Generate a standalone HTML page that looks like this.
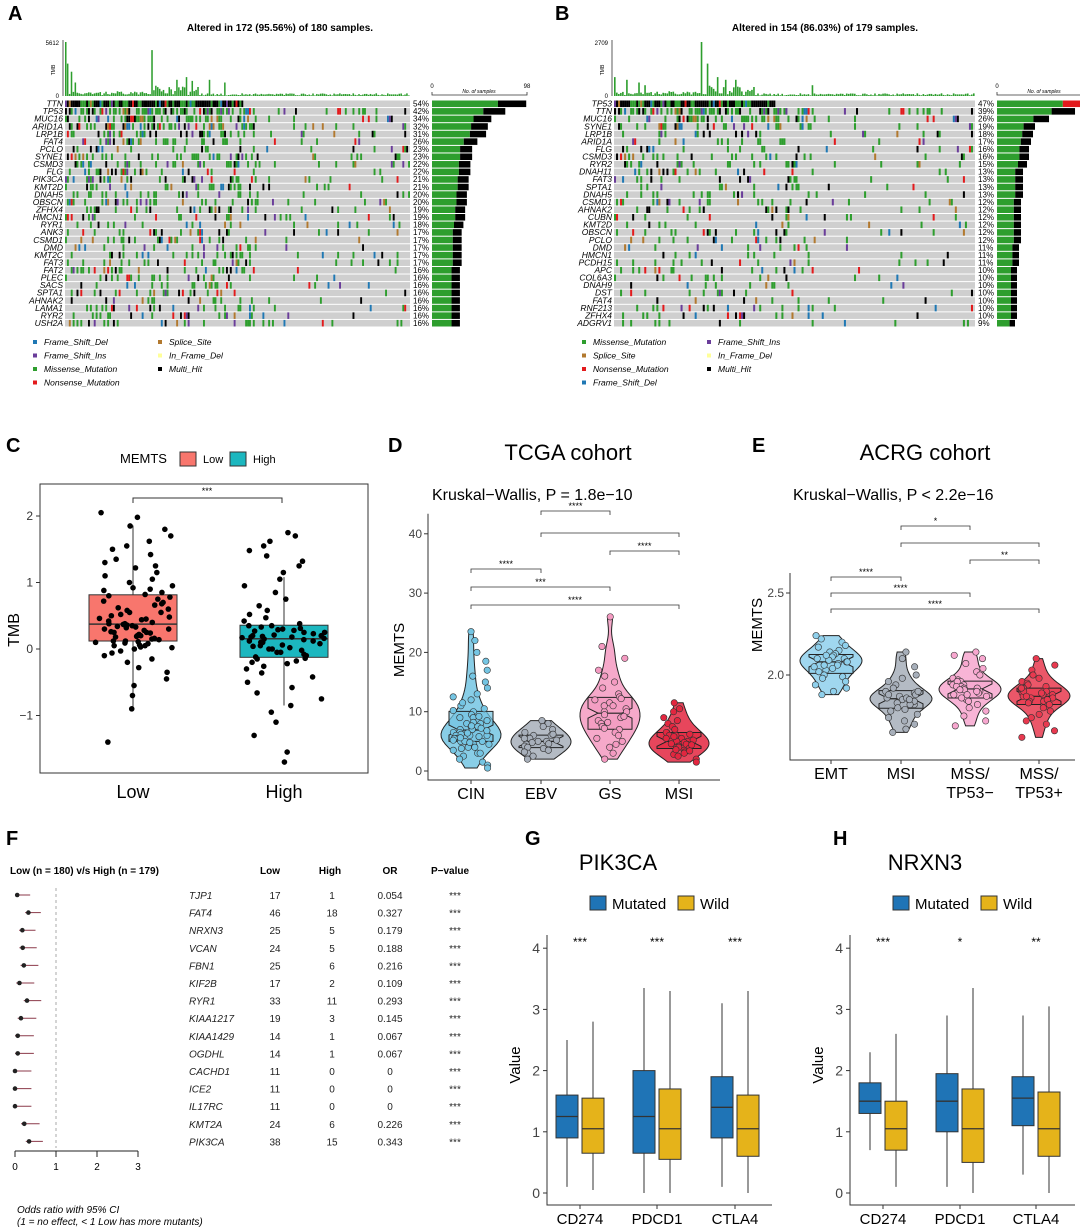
<!DOCTYPE html>
<html><head><meta charset="utf-8"><style>
body{margin:0;background:#fff;}
svg{display:block;font-family:"Liberation Sans",Arial,sans-serif;}
.it{font-style:italic;}
</style></head><body>
<svg id="fig" width="1080" height="1227" viewBox="0 0 1080 1227" xmlns="http://www.w3.org/2000/svg">
<g id="A">
<text x="8" y="20" font-size="20" font-weight="bold">A</text>
<text x="280" y="31" font-size="10" font-weight="bold" text-anchor="middle">Altered in 172 (95.56%) of 180 samples.</text>
</g>
<g id="B">
<text x="555" y="20" font-size="20" font-weight="bold">B</text>
<text x="825" y="31" font-size="10" font-weight="bold" text-anchor="middle">Altered in 154 (86.03%) of 179 samples.</text>
</g>
<g id="C">
<text x="6" y="452" font-size="20" font-weight="bold">C</text>
<text x="120" y="463" font-size="13">MEMTS</text>
<rect x="180" y="452" width="16" height="14" fill="#f8766d" stroke="#333"/>
<text x="203" y="463" font-size="11">Low</text>
<rect x="230" y="452" width="16" height="14" fill="#1cb7bf" stroke="#333"/>
<text x="253" y="463" font-size="11">High</text>
<rect x="40" y="484" width="328" height="289" fill="none" stroke="#333"/>
<text x="19" y="630" font-size="16" transform="rotate(-90 19 630)" text-anchor="middle">TMB</text>
<text x="133" y="798" font-size="18" text-anchor="middle">Low</text>
<text x="284" y="798" font-size="18" text-anchor="middle">High</text>
</g>
<g id="D">
<text x="388" y="452" font-size="20" font-weight="bold">D</text>
<text x="568" y="460" font-size="22" text-anchor="middle">TCGA cohort</text>
<text x="432" y="500" font-size="16">Kruskal−Wallis, P = 1.8e−10</text>
<text x="404" y="650" font-size="15" transform="rotate(-90 404 650)" text-anchor="middle">MEMTS</text>
</g>
<g id="E">
<text x="752" y="452" font-size="20" font-weight="bold">E</text>
<text x="925" y="460" font-size="22" text-anchor="middle">ACRG cohort</text>
<text x="793" y="500" font-size="16">Kruskal−Wallis, P &lt; 2.2e−16</text>
<text x="762" y="625" font-size="15" transform="rotate(-90 762 625)" text-anchor="middle">MEMTS</text>
</g>
<g id="F">
<text x="6" y="845" font-size="20" font-weight="bold">F</text>
<text x="10" y="874" font-size="10" font-weight="bold">Low (n = 180) v/s High (n = 179)</text>
<text x="270" y="874" font-size="10" font-weight="bold" text-anchor="middle">Low</text>
<text x="330" y="874" font-size="10" font-weight="bold" text-anchor="middle">High</text>
<text x="390" y="874" font-size="10" font-weight="bold" text-anchor="middle">OR</text>
<text x="450" y="874" font-size="10" font-weight="bold" text-anchor="middle">P−value</text>
<text x="17" y="1213" font-size="10" class="it">Odds ratio with 95% CI</text>
<text x="17" y="1225" font-size="10" class="it">(1 = no effect, &lt; 1 Low has more mutants)</text>
</g>
<g id="G">
<text x="525" y="845" font-size="20" font-weight="bold">G</text>
<text x="618" y="870" font-size="22" text-anchor="middle">PIK3CA</text>
</g>
<g id="H">
<text x="833" y="845" font-size="20" font-weight="bold">H</text>
<text x="925" y="870" font-size="22" text-anchor="middle">NRXN3</text>
</g>
</svg>
<script>
const NS='http://www.w3.org/2000/svg';
function mk(parent,tag,attrs,txt){const e=document.createElementNS(NS,tag);for(const k in attrs)e.setAttribute(k,attrs[k]);if(txt!==undefined)e.textContent=txt;parent.appendChild(e);return e;}
const gA=document.getElementById('A'),gB=document.getElementById('B'),gC=document.getElementById('C'),gD=document.getElementById('D'),gE=document.getElementById('E'),gF=document.getElementById('F'),gG=document.getElementById('G'),gH=document.getElementById('H');

// ---------- Oncoplot data ----------
const genesA=['TTN','TP53','MUC16','ARID1A','LRP1B','FAT4','PCLO','SYNE1','CSMD3','FLG','PIK3CA','KMT2D','DNAH5','OBSCN','ZFHX4','HMCN1','RYR1','ANK3','CSMD1','DMD','KMT2C','FAT3','FAT2','PLEC','SACS','SPTA1','AHNAK2','LAMA1','RYR2','USH2A'];
const pctA=[54,42,34,32,31,26,23,23,22,22,21,21,20,20,19,19,18,17,17,17,17,17,16,16,16,16,16,16,16,16];
const genesB=['TP53','TTN','MUC16','SYNE1','LRP1B','ARID1A','FLG','CSMD3','RYR2','DNAH11','FAT3','SPTA1','DNAH5','CSMD1','AHNAK2','CUBN','KMT2D','OBSCN','PCLO','DMD','HMCN1','PCDH15','APC','COL6A3','DNAH9','DST','FAT4','RNF213','ZFHX4','ADGRV1'];
const pctB=[47,39,26,19,18,17,16,16,15,13,13,13,13,12,12,12,12,12,12,11,11,11,10,10,10,10,10,10,10,9];
const tmbPeaksA=[[0,1.0],[1,0.6],[3,0.45],[5,0.25],[45,0.85],[58,0.3],[63,0.35],[66,0.28],[75,0.3],[83,0.25]];
const tmbPeaksB=[[0,0.35],[6,0.3],[12,0.25],[15,0.2],[43,1.0],[46,0.6],[51,0.35],[55,0.3],[60,0.3],[98,0.2]];
const mutColors=['#2e9e2e','#2e9e2e','#2e9e2e','#2e9e2e','#2e9e2e','#2e9e2e','#2e9e2e','#2e9e2e','#000','#000','#1f78b4','#6a3d9a','#e31a1c','#b2792f'];
function hsh(a,b){let x=(a*73856093)^(b*19349663);x=(x^(x>>>13))*1274126177;x=x^(x>>>16);return ((x>>>0)%10000)/10000;}

function oncoplot(g,genes,pct,nS,x0,x1,yTop,yBot,maxN,peaks,pfx){
  const colW=(x1-x0)/nS, rowH=(yBot-yTop)/genes.length;
  const tb=mk(g,'line',{x1:x0-2,y1:40,x2:x0-2,y2:96,stroke:'#333','stroke-width':0.8});
  
  
  const tt=mk(g,'text',{x:x0-10,y:70,'font-size':5,transform:`rotate(-90 ${x0-10} 70)`,'text-anchor':'middle'},'TMB');
  
  
  const tm=mk(g,'text',{x:x0-6,y:45,'font-size':6,'text-anchor':'end'},pfx==='a'?'5612':'2709');
  
  
  const t0=mk(g,'text',{x:x0-6,y:98,'font-size':6,'text-anchor':'end'},'0');
  
  
  for(let c=0;c<nS;c++){
    let v=0.01+0.04*hsh(c,99);
    if(c>=45&&c<70)v+=0.15*hsh(c,7);
    if(c<45)v+=0.05*hsh(c,8);
    peaks.forEach(p=>{if(p[0]===c)v=p[1];});
    const h=v*54;
    const b=mk(g,'rect',{x:x0+c*colW,y:96-h,width:colW*0.8,height:h,fill:'#2e9e2e'});
    
    
  }
  genes.forEach((gn,i)=>{
    const y=yTop+i*rowH;
    const bg=mk(g,'rect',{x:x0,y:y+0.5,width:x1-x0,height:rowH-1,fill:'#cfcfcf'});
    
    
    const p=pct[i]/100;
    for(let c=0;c<nS;c++){
      let on;
      if(i===0) on=c<nS*p*0.95;
      else { const dens=(c<nS*0.55)?p*1.2:p*0.35; on=hsh(c,i+11)<dens; }
      if(on){
        const col=mutColors[Math.floor(hsh(c,i+50)*mutColors.length)];
        const r=mk(g,'rect',{x:x0+c*colW,y:y+0.5,width:colW,height:rowH-1,fill:(i===0&&hsh(c,3)<0.45)?'#000':col});
        
        
      }
    }
    const gl=mk(g,'text',{x:x0-2,y:y+rowH-1,'font-size':8.5,'text-anchor':'end',class:'it'},gn);
    
    
    const pl=mk(g,'text',{x:x1+3,y:y+rowH-1,'font-size':8},pct[i]+'%');
    
    
    const bx=x1+22, bw=95*(pct[i]/100*nS)/maxN;
    const gr=mk(g,'rect',{x:bx,y:y+0.5,width:bw*0.7,height:rowH-1,fill:'#2e9e2e'});
    
    
    const bk=mk(g,'rect',{x:bx+bw*0.7,y:y+0.5,width:bw*0.3,height:rowH-1,fill:i===0&&pfx==='b'?'#e31a1c':'#000'});
    
    
  });
  const bx=x1+22;
  const ax=mk(g,'path',{d:`M${bx},92 L${bx},95 L${bx+95},95 L${bx+95},92`,fill:'none',stroke:'#333','stroke-width':0.8});
  
  
  const a0=mk(g,'text',{x:bx,y:88,'font-size':6,'text-anchor':'middle'},'0');
  
  
  const a1=mk(g,'text',{x:bx+95,y:88,'font-size':6,'text-anchor':'middle'},String(maxN));
  
  
  const an=mk(g,'text',{x:bx+47,y:93,'font-size':5,'text-anchor':'middle',class:'it'},'No. of samples');
  
  
}
const legA=[['Frame_Shift_Del','#1f78b4'],['Frame_Shift_Ins','#6a3d9a'],['Missense_Mutation','#2e9e2e'],['Nonsense_Mutation','#e31a1c'],['Splice_Site','#b2792f'],['In_Frame_Del','#ffff99'],['Multi_Hit','#000']];
const legB=[['Missense_Mutation','#2e9e2e'],['Splice_Site','#b2792f'],['Nonsense_Mutation','#e31a1c'],['Frame_Shift_Del','#1f78b4'],['Frame_Shift_Ins','#6a3d9a'],['In_Frame_Del','#ffff99'],['Multi_Hit','#000']];
oncoplot(gA,genesA,pctA,180,65,410,100,327,98,tmbPeaksA,'a');
oncoplot(gB,genesB,pctB,179,614,975,100,327,85,tmbPeaksB,'b');
function drawLegend(g,items,x,split,pfx){
  items.forEach((it,k)=>{
    const col=k<split?0:1, row=k<split?k:k-split;
    const lx=x+col*125, ly=344+row*13.5;
    const s=mk(g,'rect',{x:lx,y:ly-4,width:4,height:4,fill:it[1]});
    
    
    const t=mk(g,'text',{x:lx+11,y:ly+1,'font-size':8.5,class:'it'},it[0]);
    
    
  });
}
drawLegend(gA,legA,33,4,'a');
drawLegend(gB,legB,582,4,'b');

// ---------- Panel C ----------
const tmbLow=[2.05,1.98,1.85,1.8,1.7,1.62,1.55,1.5,1.42,1.35,1.3,1.22,1.15,1.1,1.05,1.0,0.95,0.92,0.88,0.85,0.82,0.8,0.78,0.75,0.72,0.7,0.66,0.62,0.6,0.58,0.55,0.52,0.5,0.48,0.46,0.44,0.42,0.4,0.38,0.37,0.36,0.35,0.34,0.33,0.32,0.3,0.28,0.26,0.25,0.24,0.22,0.2,0.19,0.18,0.16,0.15,0.14,0.12,0.11,0.1,0.09,0.08,0.06,0.05,0.03,0.02,0.0,-0.03,-0.06,-0.1,-0.15,-0.2,-0.28,-0.35,-0.45,-0.55,-0.7,-0.9,-1.4,0.3,0.45,0.2,0.55,0.68,0.12,0.25,0.38,0.9,1.25,0.05];
const tmbHigh=[1.75,1.7,1.62,1.55,1.48,1.4,1.32,1.25,1.15,1.05,0.95,0.85,0.75,0.65,0.58,0.52,0.47,0.42,0.38,0.35,0.33,0.31,0.29,0.27,0.25,0.23,0.21,0.2,0.19,0.18,0.17,0.16,0.15,0.14,0.12,0.1,0.08,0.06,0.04,0.02,0.0,-0.02,-0.05,-0.08,-0.1,-0.12,-0.14,-0.15,-0.18,-0.22,-0.26,-0.3,-0.36,-0.42,-0.5,-0.58,-0.66,-0.75,-0.85,-0.95,-1.1,-1.3,-1.55,-1.7,0.3,0.2,0.1,-0.05,0.25,0.12,0.35,0.05,-0.2,0.18,0.28,0.0];
const yTicksC=[-1,0,1,2];
const yC=v=>649-66.5*v;
function q(a,p){const s=[...a].sort((x,y)=>x-y);const i=(s.length-1)*p;const lo=Math.floor(i);return s[lo]+(s[Math.min(lo+1,s.length-1)]-s[lo])*(i-lo);}
yTicksC.forEach(t=>{
  const l=mk(gC,'line',{x1:36,y1:yC(t),x2:40,y2:yC(t),stroke:'#333'});
  
  
  const tx=mk(gC,'text',{x:33,y:yC(t)+4,'font-size':12,'text-anchor':'end',fill:'#333'},t===-1?'−1':String(t));
  
  
});
[[tmbLow,133,'#f8766d','low'],[tmbHigh,284,'#1cb7bf','high']].forEach(([d,cx,col,nm])=>{
  const q1=q(d,0.25),md=q(d,0.5),q3=q(d,0.75),iqr=q3-q1;
  const wl=Math.max(Math.min(...d),q1-1.5*iqr),wh=Math.min(Math.max(...d),q3+1.5*iqr);
  const w=mk(gC,'line',{x1:cx,y1:yC(wh),x2:cx,y2:yC(wl),stroke:'#333'});
  
  
  const b=mk(gC,'rect',{x:cx-44,y:yC(q3),width:88,height:yC(q1)-yC(q3),fill:col,stroke:'#333'});
  
  
  const m=mk(gC,'line',{x1:cx-44,y1:yC(md),x2:cx+44,y2:yC(md),stroke:'#333','stroke-width':1.5});
  
  
  d.forEach((v,i)=>{
    const c=mk(gC,'circle',{cx:cx+(hsh(i,cx)-0.5)*84,cy:yC(v),r:2.8,fill:'#000'});
    
    
  });
});
const brC=mk(gC,'path',{d:'M133,503 L133,498 L282,498 L282,503',fill:'none',stroke:'#333'});


const stC=mk(gC,'text',{x:207,y:494,'font-size':9,'text-anchor':'middle'},'***');



// ---------- Violins D & E ----------
const catsD=['CIN','EBV','GS','MSI'];
const valsCIN=[23.5,22,20,18.5,17,16,15,14,13,12.5,12,11,10.5,10,9.5,9,9,8.5,8,8,7.5,7.5,7,7,6.5,6.5,6,6,6,5.5,5.5,5,5,5,4.5,4.5,4,4,3.5,3,3,2.5,2,1.5,1,0.5,6.2,7.2,5.8,6.8,8.2,4.8,5.2,9.2,10.2,6.4,5.6,7.6,3.8,11.5];
const valsEBV=[8.5,8,7.5,7,6.5,6,6,5.5,5.5,5,5,4.8,4.5,4.2,4,3.8,3.5,3,2.5,2,5.2,4.6,6.2,3.2];
const valsGS=[26,21,19,17,16,15,14,13,12.5,12,11.5,11,10.5,10,10,9.5,9,8.5,8,7.5,7,6.5,6,5.5,5,4.5,4,3,2,11,9.2,8.2,12.2,7.2];
const valsMSI=[11.5,10.5,10,9,8.5,8,7.5,7,6.5,6.5,6,6,5.5,5.5,5,5,4.8,4.5,4.5,4.2,4,4,3.8,3.5,3.2,3,2.8,2.5,2,1.5,5.2,4.6,6.2,3.6,4.4,5.8,3.4];
const yTicksD=[0,10,20,30,40];
const catsE=['EMT','MSI','MSS/\nTP53−','MSS/\nTP53+'];
const valsEMT=[2.24,2.22,2.2,2.18,2.17,2.15,2.14,2.13,2.12,2.11,2.1,2.09,2.08,2.07,2.06,2.05,2.04,2.03,2.02,2.0,1.99,1.98,1.96,1.94,1.92,1.9,1.88,2.08,2.1,2.12,2.06];
const valsMSIe=[2.14,2.1,2.05,2.0,1.98,1.96,1.94,1.92,1.9,1.89,1.88,1.87,1.86,1.85,1.84,1.83,1.82,1.8,1.79,1.78,1.76,1.74,1.72,1.7,1.67,1.65,1.86,1.84,1.88,1.9,1.82,1.85];
const valsTP53n=[2.14,2.12,2.1,2.07,2.04,2.02,2.0,1.98,1.97,1.96,1.95,1.94,1.93,1.92,1.91,1.9,1.89,1.88,1.87,1.86,1.85,1.84,1.82,1.8,1.78,1.75,1.72,1.69,1.92,1.94,1.9,1.96,1.88,1.86,1.93,1.91];
const valsTP53p=[2.1,2.06,2.03,2.0,1.98,1.96,1.95,1.94,1.93,1.92,1.91,1.9,1.89,1.88,1.87,1.86,1.85,1.84,1.83,1.82,1.81,1.8,1.78,1.76,1.74,1.72,1.7,1.66,1.62,1.88,1.86,1.9,1.84,1.87,1.92,1.85,1.82,1.89];
const yTicksE=[2.0,2.5];
const yD=v=>771-5.93*v;
const yE=v=>675-164*(v-2);

function violin(g,vals,cx,yf,col,bw,maxW,nm){
  const lo=Math.min(...vals),hi=Math.max(...vals),N=40;
  let mx=0;const dens=[];
  for(let k=0;k<=N;k++){const v=lo+(hi-lo)*k/N;let s=0;vals.forEach(x=>s+=Math.exp(-((v-x)**2)/(2*bw*bw)));dens.push([v,s]);mx=Math.max(mx,s);}
  let d='';dens.forEach((p,k)=>{d+=(k?'L':'M')+(cx+p[1]/mx*maxW)+','+yf(p[0]);});
  for(let k=dens.length-1;k>=0;k--){d+='L'+(cx-dens[k][1]/mx*maxW)+','+yf(dens[k][0]);}
  const v=mk(g,'path',{d:d+'Z',fill:col,'fill-opacity':0.85,stroke:'#222'});
  
  
  const q1=q(vals,0.25),md=q(vals,0.5),q3=q(vals,0.75);
  const bx=mk(g,'path',{d:`M${cx-22},${yf(q3)} L${cx+22},${yf(q3)} L${cx+22},${yf(md)-5} L${cx+12},${yf(md)} L${cx+22},${yf(md)+5} L${cx+22},${yf(q1)} L${cx-22},${yf(q1)} L${cx-22},${yf(md)+5} L${cx-12},${yf(md)} L${cx-22},${yf(md)-5}Z`,fill:col,'fill-opacity':0.7,stroke:'#222'});
  
  
  const ml=mk(g,'line',{x1:cx-12,y1:yf(md),x2:cx+12,y2:yf(md),stroke:'#222','stroke-width':1.2});
  
  
  vals.forEach((x,i)=>{
    const c=mk(g,'circle',{cx:cx+(hsh(i,Math.round(cx))-0.5)*36,cy:yf(x),r:3.2,fill:col,stroke:'#333','stroke-width':0.6});
    
    
  });
}
function axesV(g,x0,x1,yAx,ticks,yf,pfx,fmt){
  const a=mk(g,'path',{d:`M${x0},${yf(ticks[ticks.length-1])-20} L${x0},${yAx} L${x1},${yAx}`,fill:'none',stroke:'#333'});
  
  
  ticks.forEach(t=>{
    const l=mk(g,'line',{x1:x0-4,y1:yf(t),x2:x0,y2:yf(t),stroke:'#333'});
    
    
    const tx=mk(g,'text',{x:x0-6,y:yf(t)+4,'font-size':12,'text-anchor':'end',fill:'#444'},fmt(t));
    
    
  });
}
function xlabels(g,cats,xs,y,pfx){
  cats.forEach((c,i)=>{
    const l=mk(g,'line',{x1:xs[i],y1:y,x2:xs[i],y2:y+4,stroke:'#333'});
    
    
    c.split('\n').forEach((s,k)=>{
      const t=mk(g,'text',{x:xs[i],y:y+19+k*19,'font-size':16,'text-anchor':'middle'},s);
      
      
    });
  });
}
function bracket(g,xa,xb,y,lab,pfx){
  const p=mk(g,'path',{d:`M${xa},${y+4} L${xa},${y} L${xb},${y} L${xb},${y+4}`,fill:'none',stroke:'#333','stroke-width':0.8});
  
  
  const t=mk(g,'text',{x:(xa+xb)/2,y:y-2,'font-size':9,'text-anchor':'middle'},lab);
  
  
}
const xD=[471,541,610,679];
axesV(gD,428,720,780,yTicksD,yD,'d',t=>String(t));
xlabels(gD,catsD,xD,780,'d');
[[valsCIN,'#74c5e3','cin'],[valsEBV,'#a7afba','ebv'],[valsGS,'#f49ac1','gs'],[valsMSI,'#e3263f','msi']].forEach((s,i)=>violin(gD,s[0],xD[i],yD,s[1],1.6,30,'d-'+s[2]));
bracket(gD,541,610,511,'****','d');bracket(gD,541,679,533,'','d');bracket(gD,610,679,551,'****','d');
bracket(gD,471,541,569,'****','d');bracket(gD,471,610,587,'***','d');bracket(gD,471,679,605,'****','d');

const xE=[831,901,970,1039];
axesV(gE,790,1075,760,yTicksE,yE,'e',t=>t.toFixed(1));
xlabels(gE,catsE,xE,760,'e');
[[valsEMT,'#8fd0ec','emt'],[valsMSIe,'#a7afba','msi'],[valsTP53n,'#f7a7cf','tp53neg'],[valsTP53p,'#e8394f','tp53pos']].forEach((s,i)=>violin(gE,s[0],xE[i],yE,s[1],0.045,31,'e-'+s[2]));
bracket(gE,901,970,526,'*','e');bracket(gE,901,1039,543,'','e');bracket(gE,970,1039,560,'**','e');
bracket(gE,831,901,577,'****','e');bracket(gE,831,970,593,'****','e');bracket(gE,831,1039,609,'****','e');

// ---------- Panel F ----------
const forestGenes=['TJP1','FAT4','NRXN3','VCAN','FBN1','KIF2B','RYR1','KIAA1217','KIAA1429','OGDHL','CACHD1','ICE2','IL17RC','KMT2A','PIK3CA'];
const forestLow=[17,46,25,24,25,17,33,19,14,14,11,11,11,24,38];
const forestHigh=[1,18,5,5,6,2,11,3,1,1,0,0,0,6,15];
const forestOR=['0.054','0.327','0.179','0.188','0.216','0.109','0.293','0.145','0.067','0.067','0','0','0','0.226','0.343'];
const forestUpper=[0.37,0.63,0.5,0.53,0.57,0.47,0.64,0.52,0.46,0.46,0.4,0.4,0.4,0.6,0.68];
const forestTicks=[0,1,2,3];
const xF=v=>15+41*v;
const dl=mk(gF,'line',{x1:xF(1),y1:888,x2:xF(1),y2:1148,stroke:'#aaa','stroke-dasharray':'3,3'});


forestGenes.forEach((gn,i)=>{
  const y=895+i*17.6, orv=parseFloat(forestOR[i]);
  const ci=mk(gF,'line',{x1:xF(Math.max(0,orv-0.08)),y1:y,x2:xF(forestUpper[i]),y2:y,stroke:'#8b3a4a','stroke-width':1});
  
  
  const pt=mk(gF,'circle',{cx:xF(orv),cy:y,r:2.3,fill:'#222'});
  
  
  [[gn,189,'start','it','gene'],[forestLow[i],275,'middle','','low'],[forestHigh[i],332,'middle','','high'],[forestOR[i],390,'middle','','or'],['***',455,'middle','','pvalue']].forEach(c=>{
    const t=mk(gF,'text',{x:c[1],y:y+4,'font-size':10,'text-anchor':c[2],class:c[3],fill:'#222'},String(c[0]));
    
    
  });
});
const fa=mk(gF,'line',{x1:xF(0),y1:1151,x2:xF(3),y2:1151,stroke:'#222'});


forestTicks.forEach(t=>{
  const l=mk(gF,'line',{x1:xF(t),y1:1151,x2:xF(t),y2:1157,stroke:'#222'});
  
  
  const tx=mk(gF,'text',{x:xF(t),y:1170,'font-size':10,'text-anchor':'middle'},String(t));
  
  
});

// ---------- Panels G & H ----------
const boxCats=['CD274','PDCD1','CTLA4'];
const yTicksGH=[0,1,2,3,4];
const pikMut=[[0.1,0.9,1.25,1.6,2.5],[0.0,0.65,1.25,2.0,3.35],[0.1,0.9,1.4,1.9,3.1]];
const pikWild=[[0.05,0.65,1.05,1.55,2.8],[0.0,0.55,1.05,1.7,3.3],[0.0,0.6,1.05,1.6,3.3]];
const pikSig=['***','***','***'];
const nrxMut=[[0.7,1.3,1.5,1.8,2.3],[0.1,1.0,1.5,1.95,2.9],[0.3,1.1,1.55,1.9,2.9]];
const nrxWild=[[0.1,0.7,1.05,1.5,2.6],[0.0,0.5,1.05,1.7,3.35],[0.0,0.6,1.05,1.65,3.05]];
const nrxSig=['***','*','**'];
const yG=v=>1193-61.2*v;
function boxPanel(g,x0,xs,mut,wild,sig,pfx){
  const a=mk(g,'path',{d:`M${x0},935 L${x0},1205 L${x0+225},1205`,fill:'none',stroke:'#333'});
  
  
  const yt=mk(g,'text',{x:x0-27,y:1065,'font-size':15,transform:`rotate(-90 ${x0-27} 1065)`,'text-anchor':'middle'},'Value');
  
  
  yTicksGH.forEach(t=>{
    const l=mk(g,'line',{x1:x0-4,y1:yG(t),x2:x0,y2:yG(t),stroke:'#333'});
    
    
    const tx=mk(g,'text',{x:x0-7,y:yG(t)+5,'font-size':14,'text-anchor':'end',fill:'#444'},String(t));
    
    
  });
  const lx=x0+43;
  const s1=mk(g,'rect',{x:lx,y:896,width:16,height:14,fill:'#1f74b6',stroke:'#333'});
  
  
  const t1=mk(g,'text',{x:lx+22,y:909,'font-size':15},'Mutated');
  
  
  const s2=mk(g,'rect',{x:lx+88,y:896,width:16,height:14,fill:'#e5b31a',stroke:'#333'});
  
  
  const t2=mk(g,'text',{x:lx+110,y:909,'font-size':15},'Wild');
  
  
  boxCats.forEach((c,i)=>{
    [[mut[i],-13,'#1f74b6','mutated'],[wild[i],13,'#e5b31a','wild']].forEach(([s,off,col,nm])=>{
      const cx=xs[i]+off;
      const w=mk(g,'line',{x1:cx,y1:yG(s[4]),x2:cx,y2:yG(s[0]),stroke:'#333'});
      
      
      const b=mk(g,'rect',{x:cx-11,y:yG(s[3]),width:22,height:yG(s[1])-yG(s[3]),fill:col,stroke:'#333'});
      
      
      const m=mk(g,'line',{x1:cx-11,y1:yG(s[2]),x2:cx+11,y2:yG(s[2]),stroke:'#333','stroke-width':1.3});
      
      
    });
    const st=mk(g,'text',{x:xs[i],y:946,'font-size':12,'text-anchor':'middle'},sig[i]);
    
    
    const tk=mk(g,'line',{x1:xs[i],y1:1205,x2:xs[i],y2:1209,stroke:'#333'});
    
    
    const xl=mk(g,'text',{x:xs[i],y:1224,'font-size':15,'text-anchor':'middle'},c);
    
    
  });
}
boxPanel(gG,547,[580,657,735],pikMut,pikWild,pikSig,'g');
boxPanel(gH,850,[883,960,1036],nrxMut,nrxWild,nrxSig,'h');
</script>
</body></html>
